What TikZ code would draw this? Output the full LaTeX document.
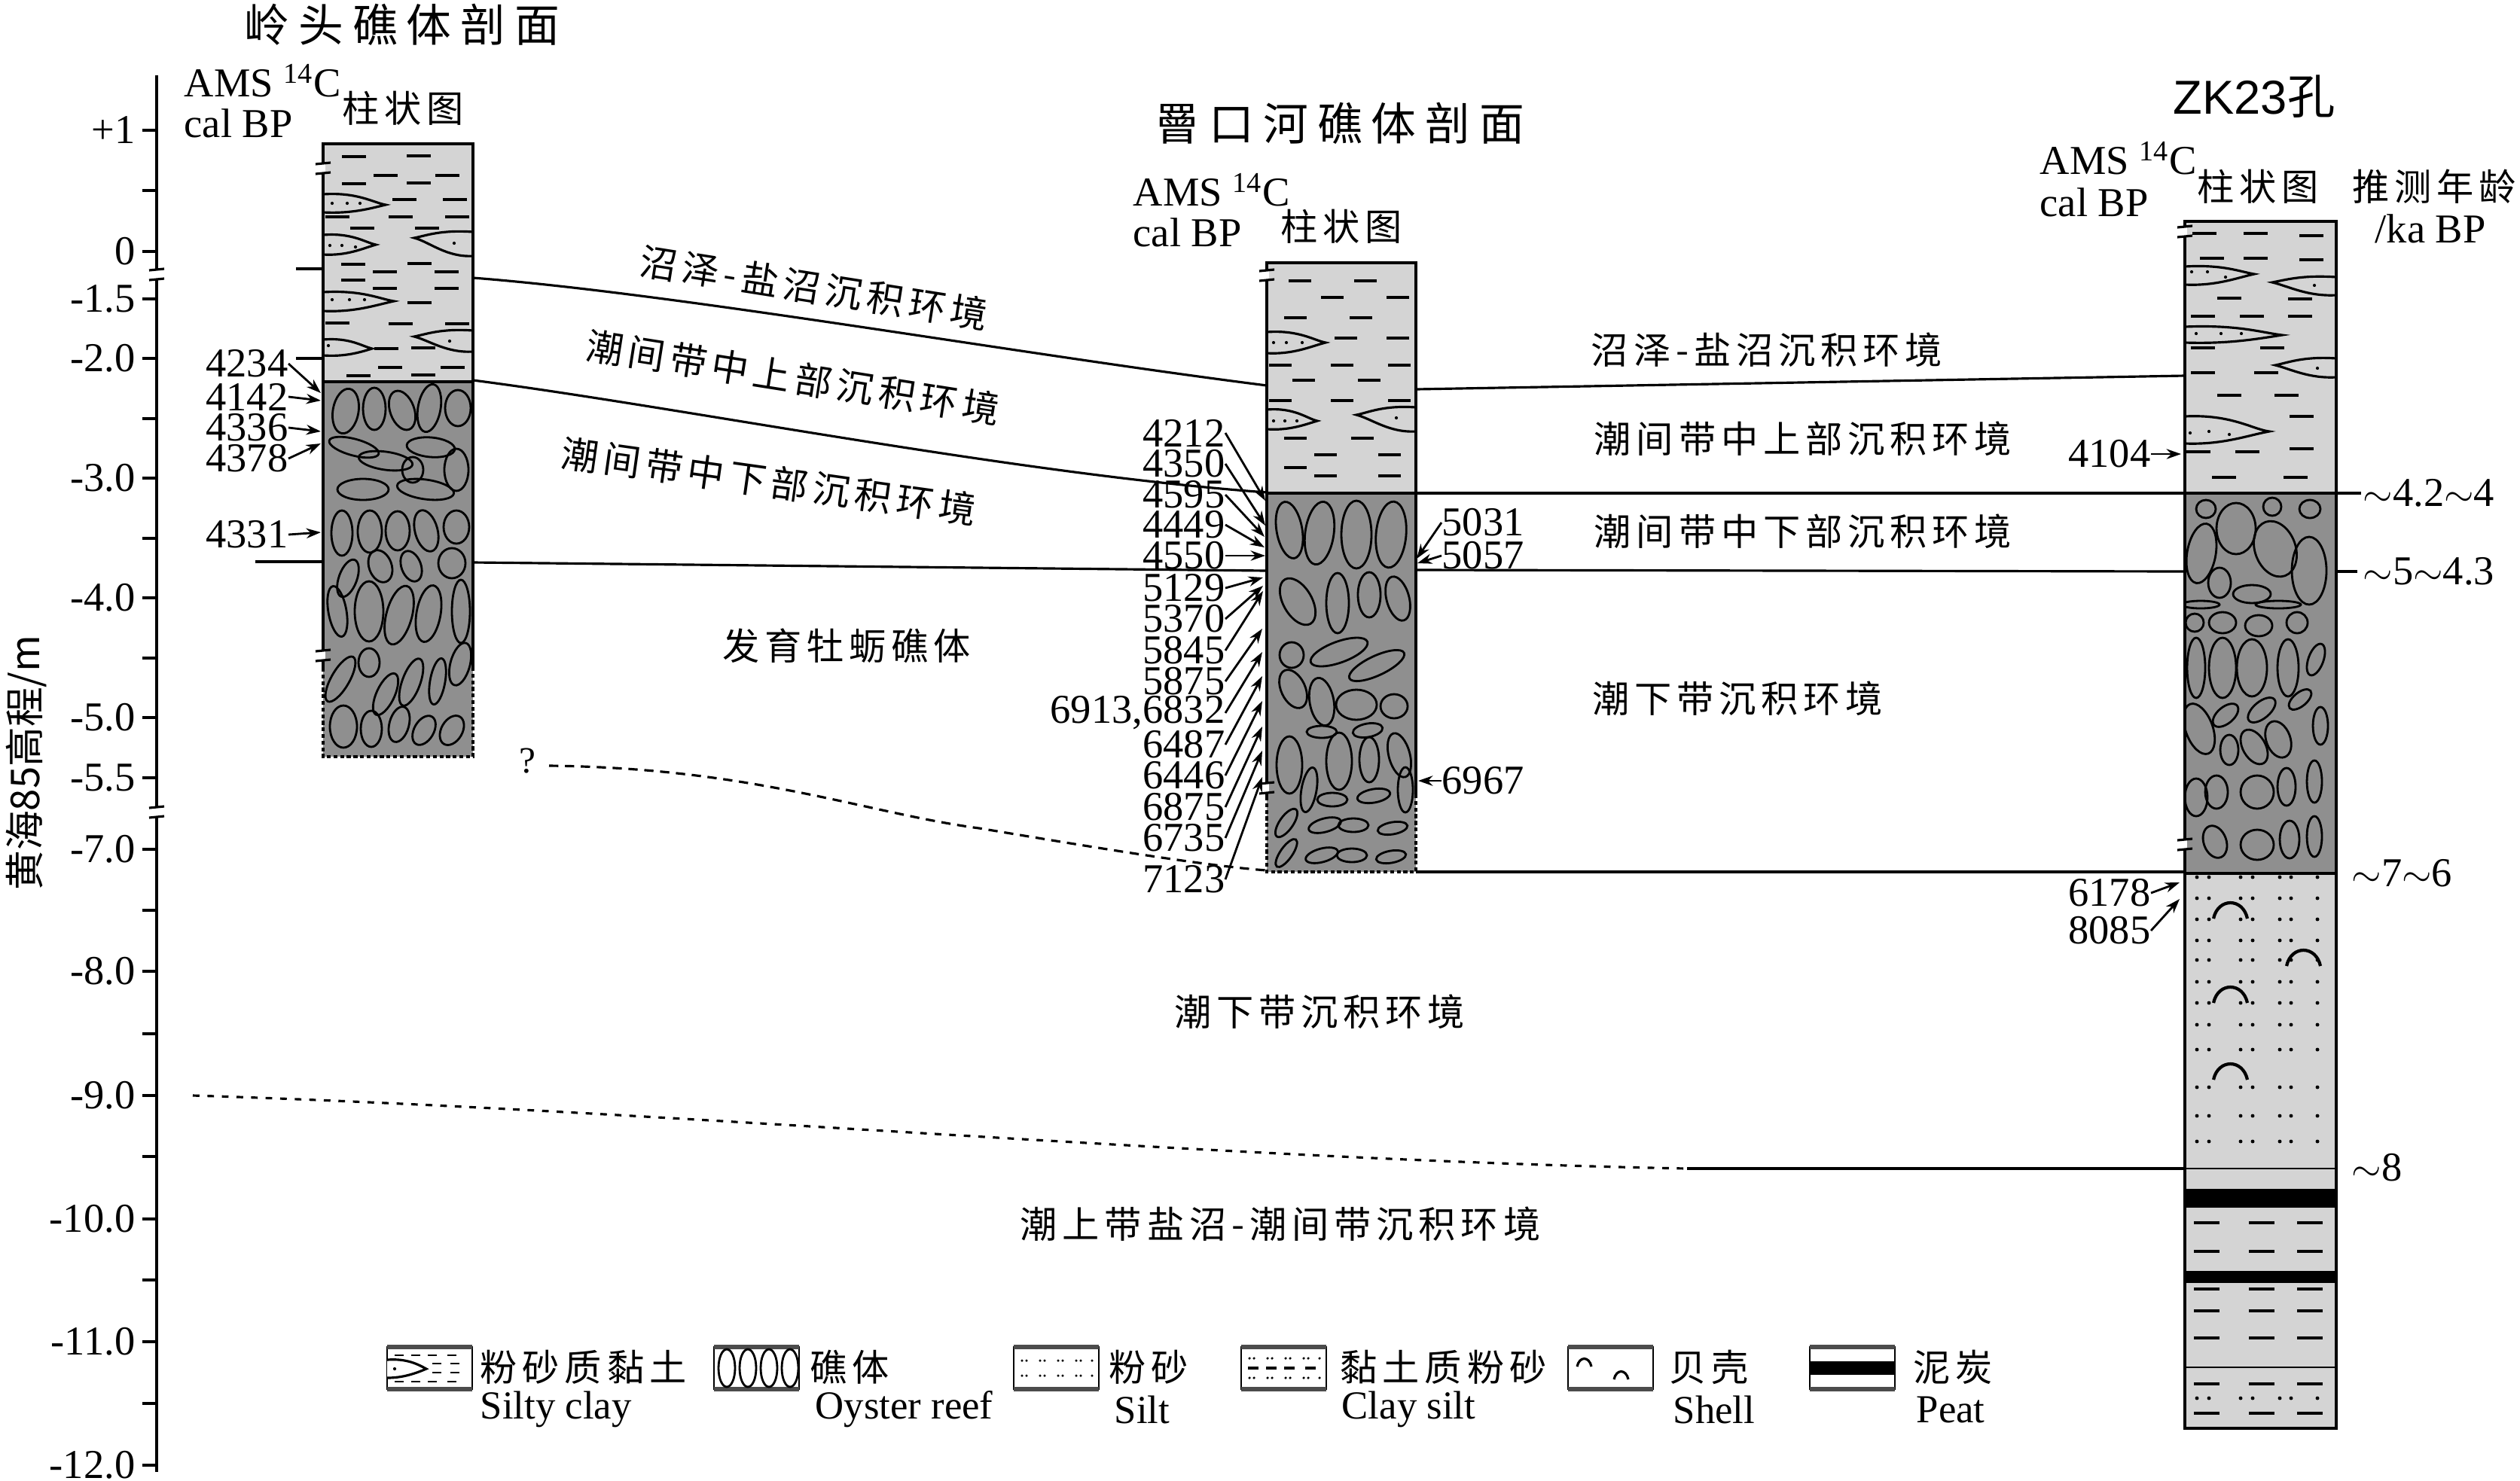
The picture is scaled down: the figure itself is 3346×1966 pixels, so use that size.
\documentclass[tikz,border=0pt]{standalone}
\usepackage{fontspec}
\setmainfont{Liberation Serif}
\newfontfamily\cjk[LetterSpace=14]{Noto Sans CJK SC}
\newfontfamily\cjkwide[LetterSpace=20]{Noto Sans CJK SC}
\newfontfamily\cjkplain{Noto Sans CJK SC}
\newfontfamily\zkfont{Liberation Sans}
\usetikzlibrary{arrows.meta,calc}

\definecolor{claygray}{gray}{0.83}
\definecolor{reefgray}{gray}{0.56}

\tikzset{
  col/.style={line width=1.2pt},
  corr/.style={line width=0.9pt},
  arr/.style={line width=0.8pt,-{Stealth[length=5.5pt,width=3.8pt]}},
  mud/.style={line width=1.1pt},
  oyster/.style={line width=0.8pt},
  lensline/.style={line width=0.9pt,fill=claygray},
  num/.style={font=\fontsize{15.5}{15.5}\selectfont,inner sep=0pt},
  env/.style={font=\fontsize{14}{14}\selectfont\cjk,inner sep=0pt},
  ttl/.style={font=\fontsize{17}{17}\selectfont\cjkwide,inner sep=0pt},
  legcn/.style={font=\fontsize{14}{14}\selectfont\cjk,inner sep=0pt,anchor=west},
  legen/.style={font=\fontsize{15}{15}\selectfont,inner sep=0pt,anchor=west},
  legbox/.style={line width=0.6pt},
}

% break mark on a vertical edge at (#1,#2)
\newcommand{\brkmark}[2]{%
  \fill[white] (#1-3,#2-6) rectangle (#1+3,#2+6);
  \draw[line width=0.9pt] (#1-10,#2-6) -- (#1+10,#2-8)
                          (#1-10,#2+7) -- (#1+10,#2+5);}
% silt lens in clay: edge x, top y, bottom y, tip x, tip y
\newcommand{\lens}[5]{%
  \draw[lensline] (#1,#2) .. controls ({#1+0.55*(#4-#1)},{#2-3}) and ({#4-0.2*(#4-#1)},{#5-3}) .. (#4,#5)
     .. controls ({#4-0.25*(#4-#1)},{#5+5}) and ({#1+0.45*(#4-#1)},{#3+2}) .. (#1,#3);}

\begin{document}
\begin{tikzpicture}[x=0.01cm,y=-0.01cm]
\useasboundingbox (0,0) rectangle (3346,1966);

% elevation axis
\draw[line width=1.1pt] (208,100) -- (208,1955);
\foreach \v/\y in {+1/173,0/334,-1.5/397,-2.0/476,-3.0/635,-4.0/794,-5.0/953,-5.5/1033,
                   -7.0/1128,-8.0/1290,-9.0/1455,-10.0/1619,-11.0/1782,-12.0/1946} {
  \draw[line width=1.1pt] (189,\y) -- (208,\y);
  \node[num,anchor=east] (tk\y) at (180,\y) {\v};
}
\foreach \y in {253,556,715,874,1209,1373,1536,1700,1864}
  \draw[line width=1.1pt] (189,\y) -- (208,\y);
\brkmark{208}{365}
\brkmark{208}{1079}
\node[rotate=90,font=\fontsize{15}{15}\selectfont,inner sep=0pt] (ylab) at (35,1013) {\cjkplain 黄海85高程/m};

% ---- Lingtou column
\fill[claygray] (429,191) rectangle (628,507);
\fill[reefgray] (429,507) rectangle (628,1005);
\foreach \x/\y in {470/208,556/207,512/233,594/233,470/244,556/243,537/265,604/265,448/288,532/288,
                   607/288,481/303,567/303,469/351,557/350,511/361,593/361,469/372,511/383,593/383,
                   557/402,448/429,532/430,607/430,513/463,562/462,518/488,601/488,476/499,562/498}
  \draw[mud] (\x-16,\y) -- (\x+16,\y);
\lens{429}{258}{282}{512}{272}
\lens{429}{312}{338}{499}{325}
\lens{429}{388}{413}{523}{400}
\lens{429}{451}{472}{494}{463}
\lens{628}{308}{340}{550}{316}
\lens{628}{439}{467}{550}{447}
\foreach \x/\y in {441/270,461/270,478/270,438/326,454/326,472/328,441/398,464/398,484/398,
                   436/459,603/323,597/453}
  \fill (\x,\y) circle[radius=0.6pt];
\begin{scope}
  \clip (429,507) rectangle (628,1005);
  \foreach \x/\y/\a/\b/\r in {459/546/17/30/-10,497/543/15/28/0,534/545/16/27/20,570/542/15/32/-10,608/542/17/24/0,
      470/594/34/11/-15,512/612/36/12/-8,572/594/32/13/-5,548/624/14/17/0,606/624/16/28/0,
      482/650/34/14/0,565/650/38/13/-8,
      454/708/14/30/0,491/706/16/28/0,528/705/16/26/0,566/705/15/28/15,606/700/17/22/0,
      462/768/12/26/-20,505/752/15/22/20,546/752/13/21/20,600/748/18/20/0,
      448/812/12/34/10,490/812/19/40/0,530/817/17/40/-15,569/815/16/38/-10,612/812/12/42/0,
      452/902/12/34/-30,490/880/14/19/0,512/922/12/30/-25,546/906/12/33/-20,581/905/10/31/-10,611/882/13/29/-15,
      456/965/18/28/0,493/968/14/24/0,530/962/13/24/-15,563/970/13/21/-30,600/970/14/21/-30}
    \draw[oyster,rotate around={\r:(\x,\y)}] (\x,\y) ellipse[x radius=\a,y radius=\b];
\end{scope}
\draw[col] (429,887) -- (429,191) -- (628,191) -- (628,887);
\draw[col,dash pattern=on 1.5pt off 1pt] (429,887) -- (429,1005) -- (628,1005) -- (628,887);
\draw[col] (429,507) -- (628,507);
\brkmark{429}{224}
\brkmark{429}{871}
\draw[corr] (393,357) -- (429,357) (393,476) -- (429,476) (339,746) -- (429,746);

% ---- Zengkouhe column
\fill[claygray] (1682,349) rectangle (1880,655);
\fill[reefgray] (1682,655) rectangle (1880,1158);
\foreach \x/\y in {1726/373,1813/373,1769/395,1856/395,1720/422,1807/422,1787/449,1856/449,1700/485,
                   1782/485,1858/485,1731/505,1818/505,1700/532,1782/532,1858/532,1720/582,1809/582,
                   1760/604,1845/604,1720/621,1760/632,1845/632}
  \draw[mud] (\x-15,\y) -- (\x+15,\y);
\lens{1682}{441}{469}{1760}{455}
\lens{1682}{544}{570}{1749}{559}
\lens{1880}{541}{573}{1801}{551}
\foreach \x/\y in {1691/455,1708/455,1729/455,1691/559,1706/559,1722/559,1854/555}
  \fill (\x,\y) circle[radius=0.6pt];
\begin{scope}
  \clip (1682,655) rectangle (1880,1158);
  \foreach \x/\y/\a/\b/\r in {1712/704/17/38/10,1752/708/19/42/-8,1801/710/20/45/0,1847/710/20/44/-5,
      1723/799/19/34/30,1776/801/15/40/0,1818/790/15/30/0,1856/795/15/30/15,
      1715/870/16/17/0,1778/866/40/14/20,1828/884/40/13/25,
      1717/915/16/27/25,1755/932/16/32/10,1801/936/27/20/0,1851/938/18/16/0,
      1755/972/20/8/0,1816/970/20/9/10,
      1712/1016/17/38/0,1778/1011/17/38/0,1818/1009/13/30/0,1858/1003/14/30/15,
      1738/1049/10/30/-10,1769/1062/20/9/0,1824/1057/22/9/10,1866/1049/10/30/0,
      1708/1093/9/22/-35,1759/1096/22/9/15,1797/1096/20/9/0,1849/1100/20/8/10,
      1708/1133/8/22/-35,1755/1136/22/9/15,1795/1136/20/9/0,1847/1138/20/8/10}
    \draw[oyster,rotate around={\r:(\x,\y)}] (\x,\y) ellipse[x radius=\a,y radius=\b];
\end{scope}
\draw[col] (1682,1058) -- (1682,349) -- (1880,349) -- (1880,1058);
\draw[col,dash pattern=on 1.5pt off 1pt] (1682,1058) -- (1682,1158) -- (1880,1158) -- (1880,1058);
\draw[col] (1682,655) -- (1880,655);
\brkmark{1682}{366}
\brkmark{1682}{1047}

% ---- ZK23 column
\fill[claygray] (2901,294) rectangle (3102,1897);
\fill[reefgray] (2901,655) rectangle (3102,1160);
\fill (2901,1579) rectangle (3102,1604);
\fill (2901,1688) rectangle (3102,1704);
\foreach \x/\y in {2927/310,2995/310,3069/313,2937/343,2995/343,3069/345,2960/396,3054/397,2925/420,
                   2990/420,3054/420,2925/462,3017/462,2925/495,3009/495,2960/525,3036/525,3056/553,
                   2919/600,2984/600,3056/596,2953/634,3048/634}
  \draw[mud] (\x-16,\y) -- (\x+16,\y);
\lens{2901}{354}{378}{2993}{364}
\lens{2901}{434}{455}{3030}{445}
\lens{2901}{553}{589}{3013}{573}
\lens{3102}{368}{392}{3017}{375}
\lens{3102}{476}{501}{3021}{485}
\foreach \x/\y in {2910/361,2931/361,2955/368,2916/443,2949/443,2976/443,2908/575,2933/573,2960/577,
                   3073/379,3077/489}
  \fill (\x,\y) circle[radius=0.6pt];
\begin{scope}
  \clip (2901,655) rectangle (3102,1160);
  \foreach \x/\y/\a/\b/\r in {2929/676/13/12/0,3017/673/12/12/0,3067/676/14/12/0,
      2923/735/19/40/-10,2969/702/26/34/0,3021/729/27/38/20,3066/758/23/45/0,
      2947/774/15/20/0,2990/789/25/12/0,
      2922/803/25/5/0,3025/803/30/5/0,
      2914/827/12/12/0,2951/827/18/14/0,2999/831/18/14/0,3050/827/14/14/0,
      2916/887/12/40/0,2951/887/18/40/0,2990/887/20/38/0,3038/887/14/38/0,3075/876/10/22/-20,
      2920/968/18/35/20,2955/950/20/11/40,3003/943/22/11/40,3054/929/18/9/40,3081/964/10/25/0,
      2960/996/12/20/0,2993/992/15/25/30,3025/982/16/25/20,
      2916/1059/15/25/0,2943/1052/15/22/0,2997/1052/22/22/0,3036/1045/12/25/0,3073/1038/10/28/0,
      2941/1118/15/22/20,2997/1122/22/20/0,3040/1115/13/25/0,3073/1111/10/27/0}
    \draw[oyster,rotate around={\r:(\x,\y)}] (\x,\y) ellipse[x radius=\a,y radius=\b];
\end{scope}
% silt dots and shells
\foreach \y in {1165,1193,1221,1249,1275,1304,1332,1361,1394,1444,1482,1516}
  \foreach \x in {2917,2933,2975,2991,3027,3042,3077}
    \fill (\x,\y) circle[radius=0.7pt];
\foreach \x/\y in {2939/1220,3036/1283,2939/1332,2939/1434}
  \draw[line width=1.2pt] (\x,\y) .. controls (\x+6,\y-28) and (\x+39,\y-28) .. (\x+45,\y);
% clay and clay silt
\foreach \y in {1624,1662,1712,1741,1777,1838,1877}
  \foreach \x in {2930,3003,3067}
    \draw[mud] (\x-17,\y) -- (\x+17,\y);
\foreach \x in {2917,2933,2975,2991,3027,3042,3077}
  \fill (\x,1857) circle[radius=0.7pt];
\draw[col] (2901,294) rectangle (3102,1897);
\draw[col] (2901,655) -- (3102,655) (2901,1160) -- (3102,1160);
\draw[line width=0.8pt] (2901,1552) -- (3102,1552) (2901,1816) -- (3102,1816);
\brkmark{2901}{308}
\brkmark{2901}{1122}
\draw[corr] (3102,655) -- (3135,655) (3102,759) -- (3130,759);

% ---- correlation lines
\draw[corr] (628,369) .. controls (900,390) and (1350,470) .. (1682,512);
\draw[corr] (1880,517) -- (2901,499);
\draw[corr] (628,505) .. controls (900,540) and (1350,630) .. (1682,654);
\draw[corr] (1880,655) -- (2901,655);
\draw[corr] (628,747) -- (1682,758);
\draw[corr] (1880,757) -- (2901,759);
\draw[corr,dash pattern=on 3.5pt off 2.5pt] (729,1017) .. controls (1000,1020) and (1150,1080) .. (1300,1100)
   .. controls (1450,1125) and (1600,1150) .. (1682,1156);
\draw[corr] (1880,1158) -- (2901,1158);
\draw[corr,dash pattern=on 2.5pt off 3pt] (256,1455) .. controls (900,1475) and (1600,1540) .. (2240,1552);
\draw[corr] (2240,1552) -- (2901,1552);
\node[font=\fontsize{14}{14}\selectfont,inner sep=0pt] (qmark) at (700,1011) {?};

% ---- headings
\node[ttl] (ttl1) at (534,33) {岭头礁体剖面};
\node[num,anchor=west] (ams1) at (244,107) {AMS \textsuperscript{14}C};
\node[num,anchor=west] (cal1) at (244,164) {cal BP};
\node[env] (zz1) at (535,144) {柱状图};
\node[ttl] (ttl2) at (1779,164) {罾口河礁体剖面};
\node[num,anchor=west] (ams2) at (1504,252) {AMS \textsuperscript{14}C};
\node[num,anchor=west] (cal2) at (1504,309) {cal BP};
\node[env] (zz2) at (1781,301) {柱状图};
\node[font=\fontsize{18}{18}\selectfont,inner sep=0pt] (ttl3) at (2993,128) {\zkfont ZK23\cjkplain 孔};
\node[num,anchor=west] (ams3) at (2708,210) {AMS \textsuperscript{14}C};
\node[num,anchor=west] (cal3) at (2708,269) {cal BP};
\node[env] (zz3) at (2998,248) {柱状图};
\node[env] (age3) at (3232,248) {推测年龄};
\node[num] (kabp) at (3227,304) {/ka BP};

% ---- environments
\node[env,rotate=-9] (e1) at (1081,382) {沼泽-盐沼沉积环境};
\node[env,rotate=-9] (e2) at (1053,501) {潮间带中上部沉积环境};
\node[env,rotate=-8] (e3) at (1021,639) {潮间带中下部沉积环境};
\node[env] (e4) at (1124,858) {发育牡蛎礁体};
\node[env] (e5) at (2346,465) {沼泽-盐沼沉积环境};
\node[env] (e6) at (2394,583) {潮间带中上部沉积环境};
\node[env] (e7) at (2394,706) {潮间带中下部沉积环境};
\node[env] (e8) at (2307,928) {潮下带沉积环境};
\node[env] (e9) at (1752,1344) {潮下带沉积环境};
\node[env] (e10) at (1700,1626) {潮上带盐沼-潮间带沉积环境};

% ---- dates
\foreach \t/\ly/\ex/\ey [count=\i] in {4234/483/426/522,4142/527/426/532,4336/568/426/573,
                                       4378/609/426/589,4331/710/426/707} {
  \node[num,anchor=east] (l\i) at (383,\ly) {\t};
  \coordinate (le\i) at (\ex,\ey);
  \draw[arr] (l\i.east) -- (le\i);
}
\foreach \t/\ly/\ex/\ey [count=\i] in {4212/575/1680/665,4350/616/1680/698,4595/657/1679/713,
    4449/697/1679/727,4550/738/1680/738,5129/781/1677/767,5370/822/1677/778,5845/864/1677/785,
    5875/905/1676/835,{6913,6832}/947/1676/866,6487/989/1676/898,6446/1030/1676/931,
    6875/1072/1676/965,6735/1113/1676/997,7123/1168/1676/1032} {
  \node[num,anchor=east] (m\i) at (1627,\ly) {\t};
  \coordinate (me\i) at (\ex,\ey);
  \draw[arr] (m\i.east) -- (me\i);
}
\foreach \t/\ly/\ex/\ey [count=\i] in {5031/694/1881/742,5057/738/1882/748,6967/1037/1883/1037} {
  \node[num,anchor=west] (r\i) at (1914,\ly) {\t};
  \coordinate (re\i) at (\ex,\ey);
  \draw[arr] (r\i.west) -- (re\i);
}
\foreach \t/\ly/\ex/\ey [count=\i] in {4104/603/2896/603,6178/1186/2894/1172,8085/1236/2894/1194} {
  \node[num,anchor=east] (z\i) at (2856,\ly) {\t};
  \coordinate (ze\i) at (\ex,\ey);
  \draw[arr] (z\i.east) -- (ze\i);
}
\node[num,anchor=west] (a1) at (3137,655) {$\sim$4.2$\sim$4};
\node[num,anchor=west] (a2) at (3137,759) {$\sim$5$\sim$4.3};
\node[num,anchor=west] (a3) at (3122,1160) {$\sim$7$\sim$6};
\node[num,anchor=west] (a4) at (3122,1551) {$\sim$8};

% ---- legend
\foreach \x in {514,948,1346,1648,2082,2403} {
  \fill[white] (\x,1789) rectangle (\x+113,1845);
  \draw[legbox] (\x,1789) rectangle (\x+113,1845);
  \draw[line width=1.6pt,gray!60!black] (\x,1789) -- (\x+113,1789) (\x,1845) -- (\x+113,1845);
}
% silty clay
\foreach \x/\y in {530/1800,552/1800,574/1800,600/1800,580/1811,604/1811,580/1823,604/1823,
                   530/1835,552/1835,574/1835,600/1835}
  \draw[line width=0.8pt] (\x-6,\y) -- (\x+6,\y);
\draw[line width=0.9pt,fill=white] (514,1806) .. controls (540,1804) and (555,1812) .. (566,1818)
   .. controls (552,1824) and (535,1830) .. (514,1830);
\fill (524,1818) circle[radius=0.6pt];
% oyster reef
\foreach \x in {965,993,1021,1049}
  \draw[line width=0.8pt] (\x,1817) ellipse[x radius=11,y radius=25];
% silt
\foreach \y in {1807,1827}
  \foreach \x in {1357,1363,1381,1387,1405,1411,1429,1435,1450}
    \fill (\x,\y) circle[radius=0.5pt];
% clay silt
\foreach \y in {1804,1830}
  \foreach \x in {1659,1665,1683,1689,1707,1713,1731,1737,1752}
    \fill (\x,\y) circle[radius=0.5pt];
\foreach \x in {1664,1688,1712,1740}
  \draw[line width=1.1pt] (\x-7,1817) -- (\x+7,1817);
% shell
\draw[line width=0.9pt] (2094,1815) .. controls (2097,1801) and (2110,1801) .. (2113,1815);
\draw[line width=0.9pt] (2143,1832) .. controls (2146,1818) and (2159,1818) .. (2162,1832);
% peat
\fill (2403,1808) rectangle (2516,1826);

\node[legcn] (lg1) at (637,1816) {粉砂质黏土};
\node[legen] (le1) at (637,1872) {Silty clay};
\node[legcn] (lg2) at (1075,1816) {礁体};
\node[legen] (le2) at (1082,1872) {Oyster reef};
\node[legcn] (lg3) at (1472,1816) {粉砂};
\node[legen] (le3) at (1479,1872) {Silt};
\node[legcn] (lg4) at (1779,1816) {黏土质粉砂};
\node[legen] (le4) at (1781,1872) {Clay silt};
\node[legcn] (lg5) at (2216,1816) {贝壳};
\node[legen] (le5) at (2221,1872) {Shell};
\node[legcn] (lg6) at (2540,1816) {泥炭};
\node[legen] (le6) at (2544,1872) {Peat};
\end{tikzpicture}
\end{document}
